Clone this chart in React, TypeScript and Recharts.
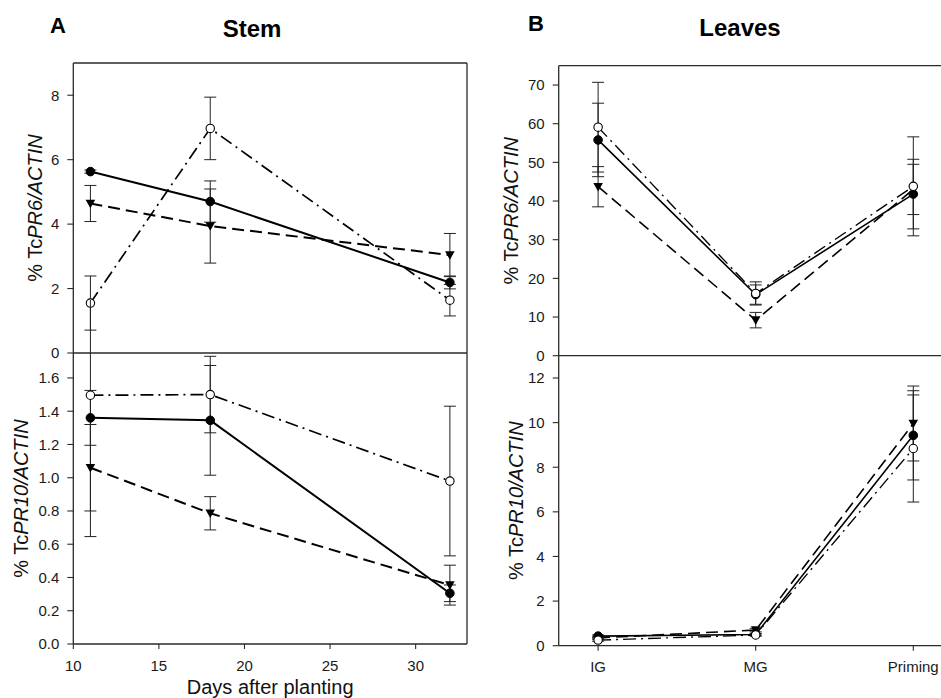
import React from "react";
import { ComposedChart, Line, XAxis, YAxis, ErrorBar, ReferenceLine } from "recharts";

// x values
const days = [11, 18, 32];
const dayTicks = [10, 15, 20, 25, 30];
const stages = ["IG", "MG", "Priming"];

// Stem, TcPR6 (mean / SD)
const stemPR6Filled = [5.63, 4.7, 2.19];
const stemPR6FilledSd = [0.05, 0.64, 0.2];
const stemPR6Tri = [4.64, 3.94, 3.04];
const stemPR6TriSd = [0.56, 1.15, 0.67];
const stemPR6Open = [1.55, 6.97, 1.64];
const stemPR6OpenSd = [0.84, 0.97, 0.49];

// Stem, TcPR10
const stemPR10Filled = [1.36, 1.345, 0.305];
const stemPR10FilledSd = [0.165, 0.33, 0.05];
const stemPR10Tri = [1.06, 0.786, 0.354];
const stemPR10TriSd = [0.26, 0.1, 0.12];
const stemPR10Open = [1.496, 1.5, 0.98];
const stemPR10OpenSd = [0.85, 0.23, 0.45];

// Leaves, TcPR6
const leafPR6Filled = [55.8, 15.8, 41.8];
const leafPR6FilledSd = [9.5, 2.5, 9.0];
const leafPR6Tri = [43.7, 9.2, 43.0];
const leafPR6TriSd = [5.2, 2.0, 6.5];
const leafPR6Open = [59.1, 16.1, 43.8];
const leafPR6OpenSd = [11.6, 3.0, 12.8];

// Leaves, TcPR10
const leafPR10Filled = [0.43, 0.5, 9.43];
const leafPR10FilledSd = [0.05, 0.05, 2.0];
const leafPR10Tri = [0.35, 0.7, 9.96];
const leafPR10TriSd = [0.05, 0.08, 1.68];
const leafPR10Open = [0.25, 0.48, 8.84];
const leafPR10OpenSd = [0.05, 0.05, 2.4];

// y ticks
const stemPR6Ticks = [0, 2, 4, 6, 8];
const stemPR10Ticks = [0, 0.2, 0.4, 0.6, 0.8, 1.0, 1.2, 1.4, 1.6];
const leafPR6Ticks = [0, 10, 20, 30, 40, 50, 60, 70];
const leafPR10Ticks = [0, 2, 4, 6, 8, 10, 12];

const FONT = "'Liberation Sans', Arial, sans-serif";
const AXIS = "#2a2a2a";
const INK = "#000";
const FRAME_W = 1.3;
const Y_TICK = 6;
const Y_GAP = 8;
const X_TICK = 5;
const X_GAP = 11;

const toRows = (
  xs: number[],
  f: number[], fSd: number[],
  t: number[], tSd: number[],
  o: number[], oSd: number[]
) =>
  xs.map((x, i) => ({
    x,
    filled: f[i], filledSd: fSd[i],
    tri: t[i], triSd: tSd[i],
    open: o[i], openSd: oSd[i],
  }));

const stageX = stages.map((_, i) => i + 1);

const stemPR6Rows = toRows(days, stemPR6Filled, stemPR6FilledSd, stemPR6Tri, stemPR6TriSd, stemPR6Open, stemPR6OpenSd);
const stemPR10Rows = toRows(days, stemPR10Filled, stemPR10FilledSd, stemPR10Tri, stemPR10TriSd, stemPR10Open, stemPR10OpenSd);
const leafPR6Rows = toRows(stageX, leafPR6Filled, leafPR6FilledSd, leafPR6Tri, leafPR6TriSd, leafPR6Open, leafPR6OpenSd);
const leafPR10Rows = toRows(stageX, leafPR10Filled, leafPR10FilledSd, leafPR10Tri, leafPR10TriSd, leafPR10Open, leafPR10OpenSd);

// downward triangle marker
const TriDot = (p: any) => {
  if (p.cx == null || p.cy == null) return <g key={p.index} />;
  const { cx, cy } = p;
  return (
    <path
      key={p.index}
      d={`M${cx - 4.8},${cy - 3.8}L${cx + 4.8},${cy - 3.8}L${cx},${cy + 4.8}Z`}
      fill={INK}
      stroke="none"
    />
  );
};

// tick = small mark + label (x, y come from the axis)
const YTick = (p: any) => {
  const { x, y, payload, fmt } = p;
  const ax = x + Y_GAP;
  return (
    <g>
      <line x1={ax} y1={y} x2={ax + Y_TICK} y2={y} stroke={AXIS} strokeWidth={1.1} />
      <text x={x} y={y} dy="0.355em" textAnchor="end" fontSize={15} fill="#1a1a1a" fontFamily={FONT}>
        {fmt ? fmt(payload.value) : payload.value}
      </text>
    </g>
  );
};

const XTick = (p: any) => {
  const { x, y, payload, fmt } = p;
  const ay = y - X_GAP;
  return (
    <g>
      <line x1={x} y1={ay - X_TICK} x2={x} y2={ay} stroke={AXIS} strokeWidth={1.1} />
      <text x={x} y={y} dy="0.71em" textAnchor="middle" fontSize={15} fill="#1a1a1a" fontFamily={FONT}>
        {fmt ? fmt(payload.value) : payload.value}
      </text>
    </g>
  );
};

function YTitle({ viewBox, gene, gap }: any) {
  const vb = viewBox ?? { x: 0, y: 0, width: 0, height: 0 };
  const x = vb.x + vb.width - gap;
  const y = vb.y + vb.height / 2;
  return (
    <text
      x={x}
      y={y}
      transform={`rotate(-90 ${x} ${y})`}
      textAnchor="middle"
      fontSize={20}
      fill="#111"
      fontFamily={FONT}
    >
      % Tc<tspan fontStyle="italic">{gene}/ACTIN</tspan>
    </text>
  );
}

const seriesLines = (lw: number) => [
  <Line
    key="tri"
    type="linear"
    dataKey="tri"
    stroke={INK}
    strokeWidth={lw}
    strokeDasharray="12 6"
    dot={TriDot}
    activeDot={false}
    isAnimationActive={false}
  >
    <ErrorBar dataKey="triSd" direction="y" width={6} stroke="#222" strokeWidth={1} isAnimationActive={false} />
  </Line>,
  <Line
    key="filled"
    type="linear"
    dataKey="filled"
    stroke={INK}
    strokeWidth={lw}
    dot={{ r: 4.3, fill: INK, stroke: INK, strokeWidth: 1, strokeDasharray: "none" }}
    activeDot={false}
    isAnimationActive={false}
  >
    <ErrorBar dataKey="filledSd" direction="y" width={6} stroke="#222" strokeWidth={1} isAnimationActive={false} />
  </Line>,
  <Line
    key="open"
    type="linear"
    dataKey="open"
    stroke={INK}
    strokeWidth={lw * 0.85}
    strokeDasharray="13 5 2 5"
    dot={{ r: 4.2, fill: "#fff", stroke: INK, strokeWidth: 1.1, strokeDasharray: "none" }}
    activeDot={false}
    isAnimationActive={false}
  >
    <ErrorBar dataKey="openSd" direction="y" width={6} stroke="#222" strokeWidth={1} isAnimationActive={false} />
  </Line>,
];

type PanelProps = {
  left: number;
  top: number;
  width: number;
  height: number;
  margin: { top: number; right: number; bottom: number; left: number };
  rows: any[];
  xDomain: [number, number];
  xTicks?: number[];
  xFormat?: (v: number) => string;
  xLabel?: string;
  showX: boolean;
  yDomain: [number, number];
  yTicks: number[];
  yFormat?: (v: number) => string;
  gene: string;
  titleGap: number;
  lw: number;
  topBorder: boolean;
};

function Panel(props: PanelProps) {
  return (
    <div style={{ position: "absolute", left: props.left, top: props.top }}>
      <ComposedChart width={props.width} height={props.height} data={props.rows} margin={props.margin}>
        <XAxis
          dataKey="x"
          type="number"
          domain={props.xDomain}
          allowDataOverflow
          ticks={props.showX ? props.xTicks : []}
          interval={0}
          tick={props.showX ? <XTick fmt={props.xFormat} /> : false}
          tickLine={false}
          tickSize={X_TICK}
          tickMargin={X_GAP}
          height={props.showX ? 30 : 0}
          axisLine={false}
          label={
            props.xLabel
              ? {
                  value: props.xLabel,
                  position: "bottom",
                  offset: 6,
                  style: { fontSize: 20, fill: "#111", fontFamily: FONT },
                }
              : undefined
          }
        />
        <YAxis
          type="number"
          domain={props.yDomain}
          allowDataOverflow
          ticks={props.yTicks}
          interval={0}
          width={60}
          tick={<YTick fmt={props.yFormat} />}
          tickLine={false}
          tickSize={Y_TICK}
          tickMargin={Y_GAP}
          axisLine={false}
          label={(p: any) => <YTitle viewBox={p.viewBox} gene={props.gene} gap={props.titleGap} />}
        />
        {/* frame */}
        <ReferenceLine x={props.xDomain[0]} stroke={AXIS} strokeWidth={FRAME_W} ifOverflow="visible" />
        <ReferenceLine x={props.xDomain[1]} stroke={AXIS} strokeWidth={FRAME_W} ifOverflow="visible" />
        <ReferenceLine y={props.yDomain[0]} stroke={AXIS} strokeWidth={FRAME_W} ifOverflow="visible" />
        {props.topBorder && (
          <ReferenceLine y={props.yDomain[1]} stroke={AXIS} strokeWidth={FRAME_W} ifOverflow="visible" />
        )}
        {seriesLines(props.lw)}
      </ComposedChart>
    </div>
  );
}

export default function App() {
  const stageFormat = (v: number) => stages[Math.round(v) - 1] ?? "";
  return (
    <div
      style={{
        position: "absolute",
        left: 0,
        top: 0,
        width: 941,
        height: 698,
        overflow: "hidden",
        background: "#fff",
        fontFamily: FONT,
      }}
    >
      <Panel
        left={0}
        top={0}
        width={480}
        height={366}
        margin={{ top: 63, right: 13, bottom: 13, left: 13.3 }}
        rows={stemPR6Rows}
        xDomain={[10, 33]}
        showX={false}
        yDomain={[0, 9]}
        yTicks={stemPR6Ticks}
        gene="PR6"
        titleGap={31}
        lw={2}
        topBorder
      />
      <Panel
        left={0}
        top={300}
        width={480}
        height={398}
        margin={{ top: 53, right: 13, bottom: 24, left: 13.3 }}
        rows={stemPR10Rows}
        xDomain={[10, 33]}
        xTicks={dayTicks}
        xLabel="Days after planting"
        showX
        yDomain={[0, 1.75]}
        yTicks={stemPR10Ticks}
        yFormat={(v) => v.toFixed(1)}
        gene="PR10"
        titleGap={45}
        lw={2}
        topBorder={false}
      />
      <Panel
        left={480}
        top={0}
        width={490}
        height={370}
        margin={{ top: 65.7, right: 17.3, bottom: 14.3, left: 18.7 }}
        rows={leafPR6Rows}
        xDomain={[0.75, 3.25]}
        showX={false}
        yDomain={[0, 75]}
        yTicks={leafPR6Ticks}
        gene="PR6"
        titleGap={41}
        lw={1.6}
        topBorder
      />
      <Panel
        left={480}
        top={300}
        width={490}
        height={398}
        margin={{ top: 55.7, right: 17.3, bottom: 22.3, left: 18.7 }}
        rows={leafPR10Rows}
        xDomain={[0.75, 3.25]}
        xTicks={stageX}
        xFormat={stageFormat}
        showX
        yDomain={[0, 13]}
        yTicks={leafPR10Ticks}
        gene="PR10"
        titleGap={36}
        lw={1.6}
        topBorder={false}
      />
      <svg
        width={941}
        height={60}
        style={{ position: "absolute", left: 0, top: 0, pointerEvents: "none" }}
      >
        <text x={50} y={33} fontSize={22} fontWeight="bold" fontFamily={FONT} fill="#000">A</text>
        <text x={252} y={37} fontSize={24} fontWeight="bold" fontFamily={FONT} fill="#000" textAnchor="middle">Stem</text>
        <text x={528} y={31} fontSize={22} fontWeight="bold" fontFamily={FONT} fill="#000">B</text>
        <text x={740} y={36} fontSize={24} fontWeight="bold" fontFamily={FONT} fill="#000" textAnchor="middle">Leaves</text>
      </svg>
    </div>
  );
}
